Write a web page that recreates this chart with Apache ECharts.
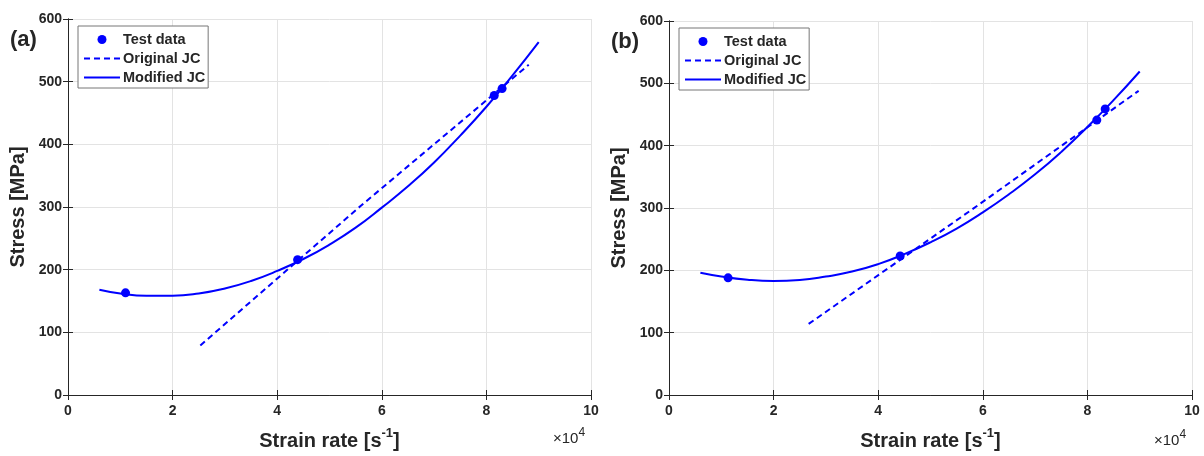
<!DOCTYPE html>
<html>
<head>
<meta charset="utf-8">
<script src="https://cdn.jsdelivr.net/npm/echarts@6/dist/echarts.min.js"></script>
<style>html,body{margin:0;padding:0;background:#fff}#c{width:1204px;height:456px}</style>
</head>
<body>
<div id="c"></div>
<script>
// x values in units of 1e4 s^-1
const xTicks = [0, 2, 4, 6, 8, 10];
const yTicks = [0, 100, 200, 300, 400, 500, 600];

// Panel (a)
const testA = [[1.10, 163], [4.39, 216], [8.15, 478], [8.30, 489]];
const origA = [[2.53, 79], [5.6, 302], [8.81, 527]];
const modXA = [0.6, 1.0, 1.5, 2.0, 2.5, 3.0, 3.5, 4.0, 4.5, 5.0, 5.5, 6.0, 6.5, 7.0, 7.5, 8.0, 8.5, 9.0];
const modYA = [168, 162, 158.5, 158.5, 162, 170, 182, 198, 217, 240, 267, 299, 333, 371, 414, 460, 510, 563];

// Panel (b)
const testB = [[1.13, 188], [4.42, 223], [8.18, 441], [8.34, 459]];
const origB = [[2.67, 114], [5.8, 298], [8.98, 488]];
const modXB = [0.6, 1.0, 1.5, 2.0, 2.5, 3.0, 3.5, 4.0, 4.5, 5.0, 5.5, 6.0, 6.5, 7.0, 7.5, 8.0, 8.5, 9.0];
const modYB = [196, 190, 185, 183, 184.5, 190, 198, 210, 226, 245, 267, 293, 322, 354, 390, 430, 473, 519];

const names = ['Test data', 'Original JC', 'Modified JC'];
const panelLabels = ['(a)', '(b)'];

const zip = (xs, ys) => xs.map((x, i) => [x, ys[i]]);
const TXT = '#262626';
const FONT = 'Liberation Sans, Arial, sans-serif';
const BLUE = '#0000ff';

const grids = [
  {left: 68, top: 19, width: 523, height: 376},
  {left: 669, top: 21, width: 523, height: 376}
];

const xAxes = [], yAxes = [], series = [], legends = [];
grids.forEach((g, i) => {
  xAxes.push({
    gridIndex: i, type: 'value', min: xTicks[0], max: xTicks[xTicks.length - 1], interval: 2,
    name: '{a|Strain rate [s}{s|-1}{a|]}', nameLocation: 'middle', nameGap: 32,
    nameTextStyle: {rich: {
      a: {fontFamily: FONT, fontWeight: 'bold', fontSize: 20, color: TXT, lineHeight: 24, verticalAlign: 'bottom'},
      s: {fontFamily: FONT, fontWeight: 'bold', fontSize: 13, color: TXT, lineHeight: 24, verticalAlign: 'top'}
    }},
    axisLine: {show: true, lineStyle: {color: TXT, width: 1}},
    axisTick: {show: true, inside: true, length: 5, lineStyle: {color: TXT}},
    axisLabel: {color: TXT, fontFamily: FONT, fontWeight: 'bold', fontSize: 14, margin: 9},
    splitLine: {show: true, lineStyle: {color: '#e3e3e3', width: 1}}
  });
  xAxes.push({
    gridIndex: i, type: 'value', position: 'top', min: 0, max: 10, interval: 2,
    axisLine: {show: true, lineStyle: {color: TXT, width: 1}},
    axisTick: {show: true, inside: true, length: 5, lineStyle: {color: TXT}},
    axisLabel: {show: false}, splitLine: {show: false}
  });
  yAxes.push({
    gridIndex: i, type: 'value', min: yTicks[0], max: yTicks[yTicks.length - 1], interval: 100,
    name: 'Stress [MPa]', nameLocation: 'middle', nameGap: 40,
    nameTextStyle: {fontFamily: FONT, fontWeight: 'bold', fontSize: 20, color: TXT},
    axisLine: {show: true, lineStyle: {color: TXT, width: 1}},
    axisTick: {show: true, inside: true, length: 5, lineStyle: {color: TXT}},
    axisLabel: {color: TXT, fontFamily: FONT, fontWeight: 'bold', fontSize: 14, margin: 6},
    splitLine: {show: true, lineStyle: {color: '#e3e3e3', width: 1}}
  });
  yAxes.push({
    gridIndex: i, type: 'value', position: 'right', min: 0, max: 600, interval: 100,
    axisLine: {show: true, lineStyle: {color: TXT, width: 1}},
    axisTick: {show: true, inside: true, length: 5, lineStyle: {color: TXT}},
    axisLabel: {show: false}, splitLine: {show: false}
  });
  const test = i === 0 ? testA : testB;
  const orig = i === 0 ? origA : origB;
  const mod = i === 0 ? zip(modXA, modYA) : zip(modXB, modYB);
  series.push({
    name: names[2], type: 'line', xAxisIndex: 2 * i, yAxisIndex: 2 * i, data: mod,
    smooth: true, showSymbol: false, symbol: 'none', z: 3,
    lineStyle: {color: BLUE, width: 2}, itemStyle: {color: BLUE}
  });
  series.push({
    name: names[1], type: 'line', xAxisIndex: 2 * i, yAxisIndex: 2 * i, data: orig,
    showSymbol: false, symbol: 'none', z: 3,
    lineStyle: {color: BLUE, width: 2, type: [6, 4]}, itemStyle: {color: BLUE}
  });
  series.push({
    name: names[0], type: 'scatter', xAxisIndex: 2 * i, yAxisIndex: 2 * i, data: test,
    symbol: 'circle', symbolSize: 9, z: 4, itemStyle: {color: BLUE, opacity: 1}
  });
  legends.push({
    left: g.left + 10, top: g.top + 7, orient: 'vertical',
    data: [
      {name: names[0], icon: 'circle'},
      {name: names[1], itemStyle: {opacity: 0}},
      {name: names[2], itemStyle: {opacity: 0}}
    ],
    itemWidth: 36, itemHeight: 9, itemGap: 4,
    padding: [6, 3, 3, 5],
    backgroundColor: '#fff', borderColor: '#777', borderWidth: 1,
    selectedMode: false,
    textStyle: {fontFamily: FONT, fontWeight: 'bold', fontSize: 14.5, lineHeight: 13, color: TXT, padding: [0, 0, 0, -2]}
  });
});

const graphics = [];
grids.forEach((g, i) => {
  graphics.push({
    type: 'text', left: g.left - 58, top: g.top + 10,
    style: {text: panelLabels[i], font: 'bold 22px ' + FONT, fill: TXT}
  });
  graphics.push({
    type: 'text', left: g.left + g.width - 38, top: g.top + g.height + 32,
    style: {text: '{a|×10}{s|4}', rich: {
      a: {font: '15px ' + FONT, fill: TXT, lineHeight: 19, verticalAlign: 'bottom'},
      s: {font: '12px ' + FONT, fill: TXT, lineHeight: 19, verticalAlign: 'top'}
    }}
  });
});

const chart = echarts.init(document.getElementById('c'), null, {renderer: 'canvas'});
chart.setOption({
  animation: false,
  backgroundColor: '#fff',
  grid: grids,
  xAxis: xAxes,
  yAxis: yAxes,
  legend: legends,
  series: series,
  graphic: graphics
});
</script>
</body>
</html>
